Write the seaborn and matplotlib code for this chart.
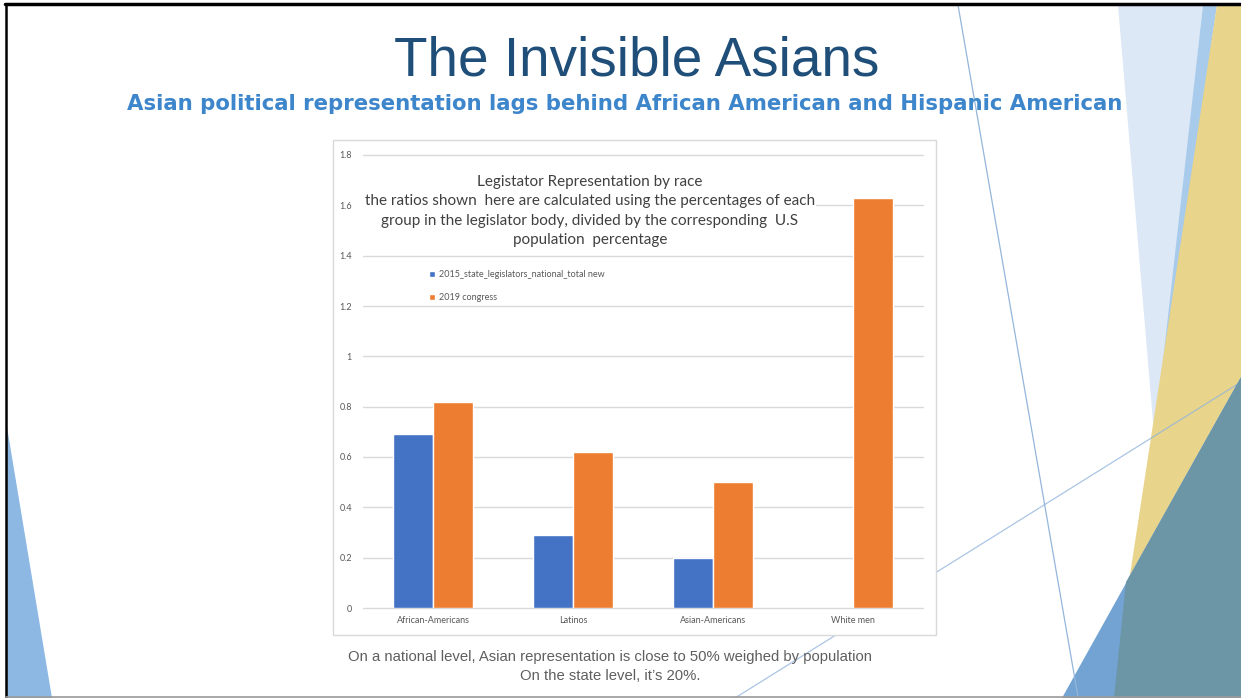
import numpy as np
import pandas as pd
import matplotlib
matplotlib.use("Agg")
import matplotlib.pyplot as plt
from matplotlib.patches import Polygon, Rectangle
import seaborn as sns

# chart data
groups = ["African-Americans", "Latinos", "Asian-Americans", "White men"]
state_2015 = [0.69, 0.29, 0.20, np.nan]
congress_2019 = [0.82, 0.62, 0.50, 1.63]
series_names = ["2015_state_legislators_national_total new", "2019 congress"]
y_ticks = [0, 0.2, 0.4, 0.6, 0.8, 1.0, 1.2, 1.4, 1.6, 1.8]
y_labels = ["0", "0.2", "0.4", "0.6", "0.8", "1", "1.2", "1.4", "1.6", "1.8"]

slide_title = "The Invisible Asians"
slide_subtitle = "Asian political representation lags behind African American and Hispanic American"
chart_title = ("Legistator Representation by race\n"
               "the ratios shown  here are calculated using the percentages of each\n"
               "group in the legislator body, divided by the corresponding  U.S\n"
               "population  percentage")
note_lines = ["On a national level, Asian representation is close to 50% weighed by population",
              "On the state level, it\u2019s 20%."]

colors = {series_names[0]: "#4472C4", series_names[1]: "#ED7D31"}

df = pd.DataFrame({
    "group": groups * 2,
    "series": [series_names[0]] * len(groups) + [series_names[1]] * len(groups),
    "value": state_2015 + congress_2019,
})

sns.set_theme(style="white")
plt.rcParams["font.family"] = ["Lato", "DejaVu Sans"]

W, H = 1241, 698
fig = plt.figure(figsize=(W / 100, H / 100), dpi=100)

# slide background, drawn in pixel coordinates
bg = fig.add_axes([0, 0, 1, 1])
bg.set_xlim(0, W)
bg.set_ylim(H, 0)
bg.axis("off")


def shape(points, color, z=1):
    bg.add_patch(Polygon(points, closed=True, facecolor=color, edgecolor="none", zorder=z))


shape([(1118, 5), (1203, 5), (1155, 445)], "#DCE8F5")
shape([(1203, 5), (1217, 5), (1153, 450)], "#A8CAEB")
shape([(1217, 5), (1241, 5), (1241, 377), (1130, 575)], "#E8D48B")
bg.plot([735, 1241], [698, 382], color="#94B6DC", lw=0.9, alpha=0.8, zorder=1.5)
shape([(1062, 698), (1241, 377), (1241, 698)], "#72A3D3", z=1.6)
shape([(1114, 698), (1126, 582), (1241, 377), (1241, 698)], "#6C95A6", z=1.7)
shape([(7, 427), (7, 698), (52, 698)], "#8DB8E3")

bg.plot([958, 1078], [5, 697], color="#94B6DC", lw=0.9, zorder=2)

# slide frame
bg.plot([5, W], [4, 4], color="black", lw=2.5, zorder=5)
bg.plot([6, 6], [4, H], color="black", lw=1.8, zorder=5)
bg.plot([6, W], [696.5, 696.5], color="#9a9a9a", lw=1.2, zorder=5)

# chart frame
bg.add_patch(Rectangle((333, 140), 603, 495, facecolor="white",
                       edgecolor="#D9D9D9", lw=1, zorder=3))

bg.text(637, 75, slide_title, ha="center", va="baseline", fontsize=39.5,
        color="#1F4E79", family=["Liberation Sans", "DejaVu Sans"], zorder=6)
bg.text(625, 110, slide_subtitle, ha="center", va="baseline", fontsize=15.3,
        fontweight="bold", color="#3D86CB", family=["DejaVu Sans"], zorder=6)
for y, line in zip([657, 676], note_lines):
    bg.text(610, y, line, ha="center", va="center", fontsize=10.75,
            color="#5f5f5f", family=["Liberation Sans", "DejaVu Sans"], zorder=6)

# the bar chart itself
ax = fig.add_axes([363 / W, 1 - 608 / H, 560 / W, 453 / H])
ax.patch.set_alpha(0)
sns.barplot(data=df, x="group", y="value", hue="series", order=groups,
            hue_order=series_names, palette=colors, width=0.57, gap=0,
            saturation=1, ax=ax)

ax.set_xlim(-0.5, 3.5)
ax.set_ylim(0, 1.8)
ax.set_yticks(y_ticks)
ax.set_yticklabels(y_labels)
ax.set_xlabel("")
ax.set_ylabel("")
ax.yaxis.grid(True, color="#D9D9D9", lw=1)
ax.set_axisbelow(True)
for s in ax.spines.values():
    s.set_visible(False)
ax.tick_params(axis="y", length=0, pad=8, labelsize=6.5, labelcolor="#595959")
ax.tick_params(axis="x", length=0, pad=6, labelsize=6.5, labelcolor="#595959")
for gl in ax.get_ygridlines():
    gl.set_clip_on(False)

handles, labels = ax.get_legend_handles_labels()
ax.legend(handles, labels, loc="upper left", bbox_to_anchor=(0.11, 0.756),
          frameon=False, fontsize=6.5, handlelength=0.7, handleheight=0.7,
          handletextpad=0.4, labelspacing=1.55, borderpad=0, labelcolor="#595959")

ax.text(0.405, 0.876, chart_title, transform=ax.transAxes, ha="center", va="center",
        fontsize=11, color="#404040", linespacing=1.5,
        bbox=dict(facecolor="white", edgecolor="none", pad=1))

fig.savefig("out.png", dpi=100)
